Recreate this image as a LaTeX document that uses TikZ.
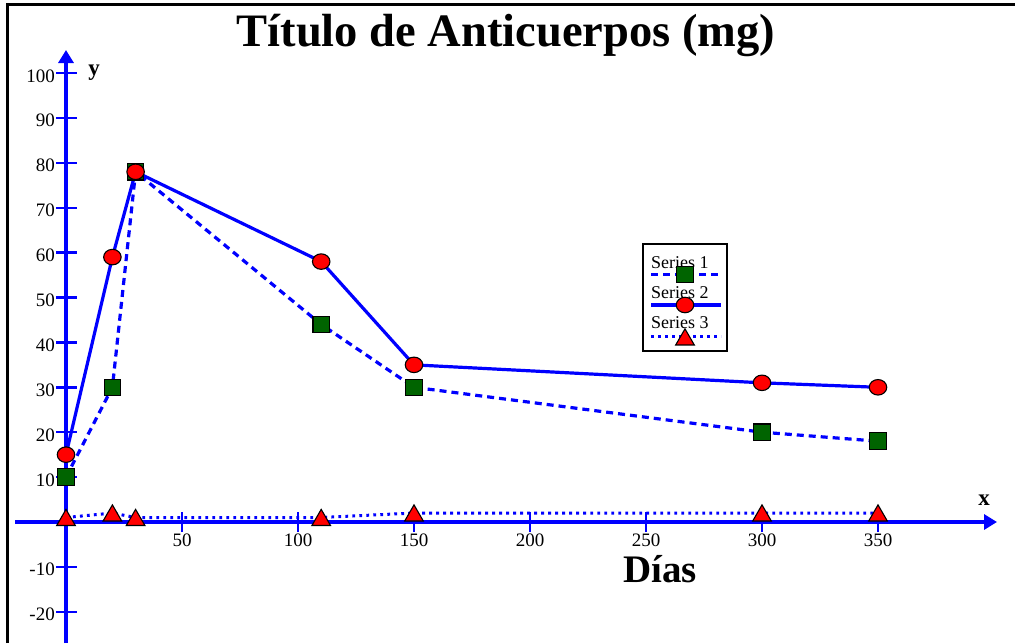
\documentclass[tikz,border=0pt]{standalone}
\usepackage{fontspec}
\setmainfont{Liberation Serif}
\usetikzlibrary{arrows.meta,shapes.geometric}
\definecolor{dgreen}{RGB}{0,100,0}
\begin{document}
\begin{tikzpicture}[x=1pt,y=-1pt,
  axis/.style={blue,line width=3.6pt},
  tickline/.style={blue,line width=2.4pt},
  s1line/.style={blue,line width=3.2pt,dash pattern=on 7pt off 5pt},
  s2line/.style={blue,line width=3.2pt},
  s3line/.style={blue,line width=3pt,dash pattern=on 2.8pt off 4.2pt},
  sq/.style={draw=black,line width=1.1pt,fill=dgreen,rectangle,minimum size=16.5pt,inner sep=0pt},
  ci/.style={draw=black,line width=1.1pt,fill=red,ellipse,minimum width=17.5pt,minimum height=15.5pt,inner sep=0pt},
  tri/.style={draw=black,line width=1.1pt,fill=red,regular polygon,regular polygon sides=3,minimum size=21.5pt,inner sep=0pt,yshift=-2.6pt},
  ticklab/.style={inner sep=0pt,font=\fontsize{19}{22}\selectfont},
  leglab/.style={inner sep=0pt,anchor=base west,font=\fontsize{18}{21}\selectfont},
  biglab/.style={inner sep=0pt,anchor=base,font=\bfseries\fontsize{23}{26}\selectfont}]
\useasboundingbox (0,0) rectangle (1015,643);
% frame
\coordinate (fbl) at (7.5,643);
\coordinate (ftl) at (7.5,4.5);
\coordinate (ftr) at (1015,4.5);
\draw[black,line width=3pt] (fbl) -- (ftl) -- (ftr);
% title
\node[inner sep=0pt,anchor=base,font=\bfseries\fontsize{46.5}{50}\selectfont] (title) at (506,46) {Título de Anticuerpos (mg)};
% axes
\coordinate (yb) at (66,643);
\coordinate (yt) at (66,50);
\coordinate (xl) at (15,522);
\coordinate (xr) at (997,522);
\draw[axis,-{Triangle[width=15pt,length=13pt]}] (yb) -- (yt);
\draw[axis,-{Triangle[width=15pt,length=13pt]}] (xl) -- (xr);
\node[biglab] (ylab) at (94,75) {y};
\node[biglab] (xlab) at (984,505) {x};
\node[inner sep=0pt,anchor=base,font=\bfseries\fontsize{39}{44}\selectfont] (dias) at (660,582) {Días};
\begin{scope}[shift={(66,522)},x=2.32pt,y=4.49pt]
  \foreach \v in {100,90,80,70,60,50,40,30,20,10,-10,-20}{
    \draw[tickline] (-4.31,\v) -- (4.74,\v);
    \node[ticklab,anchor=base east,yshift=-9pt] at (-4.74,\v) {\v};
  }
  \foreach \u in {50,100,150,200,250,300,350}{
    \draw[tickline] (\u,-2.23) -- (\u,2.23);
    \node[ticklab,anchor=base,yshift=-24pt] at (\u,0) {\u};
  }
  % series 1
  \coordinate (a1) at (0,10);
  \coordinate (a2) at (20,30);
  \coordinate (a3) at (30,78);
  \coordinate (a4) at (110,44);
  \coordinate (a5) at (150,30);
  \coordinate (a6) at (300,20);
  \coordinate (a7) at (350,18);
  % series 2
  \coordinate (b1) at (0,15);
  \coordinate (b2) at (20,59);
  \coordinate (b3) at (30,78);
  \coordinate (b4) at (110,58);
  \coordinate (b5) at (150,35);
  \coordinate (b6) at (300,31);
  \coordinate (b7) at (350,30);
  % series 3
  \coordinate (c1) at (0,1);
  \coordinate (c2) at (20,2);
  \coordinate (c3) at (30,1);
  \coordinate (c4) at (110,1);
  \coordinate (c5) at (150,2);
  \coordinate (c6) at (300,2);
  \coordinate (c7) at (350,2);
\end{scope}
\draw[s1line] (a1) -- (a2) -- (a3) -- (a4) -- (a5) -- (a6) -- (a7);
\draw[s2line,line join=round] (b1) -- (b2) -- (b3) -- (b4) -- (b5) -- (b6) -- (b7);
\draw[s3line] (c1) -- (c2) -- (c3) -- (c4) -- (c5) -- (c6) -- (c7);
\foreach \p in {a1,a2,a3,a4,a5,a6,a7}{\node[sq] (m\p) at (\p) {};}
\foreach \p in {b1,b2,b3,b4,b5,b6,b7}{\node[ci] (m\p) at (\p) {};}
\foreach \p in {c1,c2,c3,c4,c5,c6,c7}{\node[tri] (m\p) at (\p) {};}
% legend
\node[draw=black,line width=1.6pt,fill=white,minimum width=84pt,minimum height=107pt,inner sep=0pt,anchor=north west] (legend) at (642,243) {};
\node[leglab] (l1) at (651,268) {Series 1};
\node[leglab] (l2) at (651,298) {Series 2};
\node[leglab] (l3) at (651,328) {Series 3};
\coordinate (l1a) at (651,274.5); \coordinate (l1b) at (721,274.5);
\coordinate (l2a) at (651,305); \coordinate (l2b) at (721,305);
\coordinate (l3a) at (651,336.5); \coordinate (l3b) at (721,336.5);
\draw[s1line] (l1a) -- (l1b);
\draw[s2line] (l2a) -- (l2b);
\draw[s3line] (l3a) -- (l3b);
\node[sq] (lm1) at (685,274.5) {};
\node[ci] (lm2) at (685,305) {};
\node[tri] (lm3) at (685,337) {};
\end{tikzpicture}
\end{document}
